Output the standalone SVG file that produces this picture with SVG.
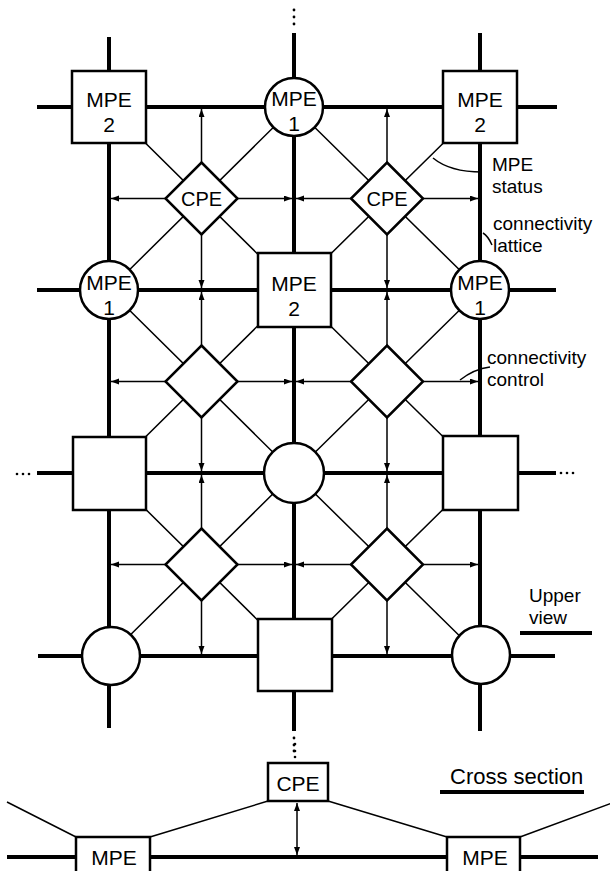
<svg xmlns="http://www.w3.org/2000/svg" width="610" height="871" viewBox="0 0 610 871">
<style>
.lat{stroke:#000;stroke-width:4;fill:none;stroke-linecap:butt}
.thin{stroke:#000;stroke-width:1.5;fill:none}
.arr{stroke:#000;stroke-width:1.5;fill:none;marker-end:url(#ah)}
.node{fill:#fff;stroke:#000;stroke-width:2.5}
.lbl{font-family:"Liberation Sans",Arial,sans-serif;font-size:21px;fill:#000;text-anchor:middle}
.cpe{font-family:"Liberation Sans",Arial,sans-serif;font-size:20px;fill:#000;text-anchor:middle}
.note{font-family:"Liberation Sans",Arial,sans-serif;font-size:19px;fill:#000}
.dot{fill:#000}
</style>
<defs>
<marker id="ah" markerWidth="9" markerHeight="7" refX="8" refY="3" orient="auto" markerUnits="userSpaceOnUse">
<path d="M0,0 L8,3 L0,6 z" fill="#000"/>
</marker>
<marker id="ahs" markerWidth="9" markerHeight="7" refX="0" refY="3" orient="auto" markerUnits="userSpaceOnUse">
<path d="M8,0 L0,3 L8,6 z" fill="#000"/>
</marker>
</defs>

<g id="connectors">
<g id="lattice">
<line class="lat" x1="37" y1="107" x2="557" y2="107"/>
<line class="lat" x1="37" y1="290" x2="556" y2="290"/>
<line class="lat" x1="37" y1="473" x2="556" y2="473"/>
<line class="lat" x1="38" y1="656" x2="555" y2="656"/>
<line class="lat" x1="109" y1="37" x2="109" y2="728"/>
<line class="lat" x1="294" y1="33" x2="294" y2="731"/>
<line class="lat" x1="480" y1="33" x2="480" y2="731"/>
</g>
<g id="ellipses">
<circle class="dot" cx="294" cy="10" r="1.4"/>
<circle class="dot" cx="294" cy="17" r="1.4"/>
<circle class="dot" cx="294" cy="24" r="1.4"/>
<circle class="dot" cx="294" cy="738" r="1.4"/>
<circle class="dot" cx="294" cy="745" r="1.4"/>
<circle class="dot" cx="294" cy="751" r="1.4"/>
<circle class="dot" cx="17" cy="474" r="1.3"/>
<circle class="dot" cx="23" cy="474" r="1.3"/>
<circle class="dot" cx="29" cy="474" r="1.3"/>
<circle class="dot" cx="561" cy="473" r="1.3"/>
<circle class="dot" cx="567" cy="473" r="1.3"/>
<circle class="dot" cx="573" cy="473" r="1.3"/>
</g>
<g id="diagonals">
<path class="thin" d="M109,107 L294,290 M294,107 L109,290 M294,107 L480,290 M480,107 L294,290"/>
<path class="thin" d="M109,290 L294,473 M294,290 L109,473 M294,290 L480,473 M480,290 L294,473"/>
<path class="thin" d="M109,473 L294,656 M294,473 L109,656 M294,473 L480,656 M480,473 L294,656"/>
</g>
<g id="controls">
<line class="arr" x1="201.5" y1="162.5" x2="201.5" y2="109"/>
<line class="arr" x1="201.5" y1="234.5" x2="201.5" y2="288"/>
<line class="arr" x1="165.5" y1="198.5" x2="111" y2="198.5"/>
<line class="arr" x1="237.5" y1="198.5" x2="292" y2="198.5"/>
<line class="arr" x1="387" y1="162.5" x2="387" y2="109"/>
<line class="arr" x1="387" y1="234.5" x2="387" y2="288"/>
<line class="arr" x1="351" y1="198.5" x2="296" y2="198.5"/>
<line class="arr" x1="423" y1="198.5" x2="478" y2="198.5"/>

<line class="arr" x1="201.5" y1="345.5" x2="201.5" y2="292"/>
<line class="arr" x1="201.5" y1="417.5" x2="201.5" y2="471"/>
<line class="arr" x1="165.5" y1="381.5" x2="111" y2="381.5"/>
<line class="arr" x1="237.5" y1="381.5" x2="292" y2="381.5"/>
<line class="arr" x1="387" y1="345.5" x2="387" y2="292"/>
<line class="arr" x1="387" y1="417.5" x2="387" y2="471"/>
<line class="arr" x1="351" y1="381.5" x2="296" y2="381.5"/>
<line class="arr" x1="423" y1="381.5" x2="478" y2="381.5"/>

<line class="arr" x1="201.5" y1="528.5" x2="201.5" y2="475"/>
<line class="arr" x1="201.5" y1="600.5" x2="201.5" y2="654"/>
<line class="arr" x1="165.5" y1="564.5" x2="111" y2="564.5"/>
<line class="arr" x1="237.5" y1="564.5" x2="292" y2="564.5"/>
<line class="arr" x1="387" y1="528.5" x2="387" y2="475"/>
<line class="arr" x1="387" y1="600.5" x2="387" y2="654"/>
<line class="arr" x1="351" y1="564.5" x2="296" y2="564.5"/>
<line class="arr" x1="423" y1="564.5" x2="478" y2="564.5"/>
</g>
<g id="leaders">
<path class="thin" d="M433,158 Q450,172 482,172"/>
<path class="thin" d="M483,233 Q488,236 492,245"/>
<path class="thin" d="M460,380 Q474,369 490,367"/>
</g>
<g id="xsec-lines">
<line class="lat" x1="7" y1="857" x2="76" y2="857"/>
<line class="lat" x1="150" y1="857" x2="447" y2="857"/>
<line class="lat" x1="520" y1="857" x2="598" y2="857"/>
<path class="thin" d="M7,802 L76,837 M150,837 L268,801 M328,801 L447,837 M520,837 L612,803"/>
<line class="thin" x1="297" y1="803" x2="297" y2="855" marker-start="url(#ahs)" marker-end="url(#ah)"/>
<circle class="dot" cx="295" cy="744" r="1.3"/>
<circle class="dot" cx="295" cy="751" r="1.3"/>
<circle class="dot" cx="295" cy="757" r="1.3"/>
</g>
</g>

<g id="mpe-r1c1"><rect class="node" x="72" y="71" width="74" height="72"/><text class="lbl" x="109" y="107">MPE<tspan x="109" dy="25">2</tspan></text></g>
<g id="mpe-r1c2"><circle class="node" cx="294" cy="107" r="29"/><text class="lbl" x="294" y="106">MPE<tspan x="294" dy="25">1</tspan></text></g>
<g id="mpe-r1c3"><rect class="node" x="443" y="71" width="74" height="72"/><text class="lbl" x="480" y="107">MPE<tspan x="480" dy="25">2</tspan></text></g>
<g id="mpe-r2c1"><circle class="node" cx="109" cy="290" r="29"/><text class="lbl" x="109" y="290">MPE<tspan x="109" dy="25">1</tspan></text></g>
<g id="mpe-r2c2"><rect class="node" x="258" y="253" width="73" height="74"/><text class="lbl" x="294" y="291">MPE<tspan x="294" dy="25">2</tspan></text></g>
<g id="mpe-r2c3"><circle class="node" cx="480" cy="290" r="29"/><text class="lbl" x="480" y="290">MPE<tspan x="480" dy="25">1</tspan></text></g>
<g id="mpe-r3c1"><rect class="node" x="73" y="437" width="73" height="73"/></g>
<g id="mpe-r3c2"><circle class="node" cx="294" cy="473" r="30"/></g>
<g id="mpe-r3c3"><rect class="node" x="443" y="436" width="75" height="74"/></g>
<g id="mpe-r4c1"><circle class="node" cx="111" cy="656" r="29"/></g>
<g id="mpe-r4c2"><rect class="node" x="258" y="619" width="74" height="72"/></g>
<g id="mpe-r4c3"><circle class="node" cx="481" cy="655" r="29"/></g>

<g id="cpe-r1c1"><path class="node" d="M201.5,162.5 L237.5,198.5 L201.5,234.5 L165.5,198.5 Z"/><text class="cpe" x="201.5" y="206">CPE</text></g>
<g id="cpe-r1c2"><path class="node" d="M387,162.5 L423,198.5 L387,234.5 L351,198.5 Z"/><text class="cpe" x="387" y="206">CPE</text></g>
<g id="cpe-r2c1"><path class="node" d="M201.5,345.5 L237.5,381.5 L201.5,417.5 L165.5,381.5 Z"/></g>
<g id="cpe-r2c2"><path class="node" d="M387,345.5 L423,381.5 L387,417.5 L351,381.5 Z"/></g>
<g id="cpe-r3c1"><path class="node" d="M201.5,528.5 L237.5,564.5 L201.5,600.5 L165.5,564.5 Z"/></g>
<g id="cpe-r3c2"><path class="node" d="M387,528.5 L423,564.5 L387,600.5 L351,564.5 Z"/></g>

<g id="annotations">
<text class="note" x="492" y="171">MPE<tspan x="492" dy="22">status</tspan></text>
<text class="note" x="493" y="230">connectivity<tspan x="493" dy="22">lattice</tspan></text>
<text class="note" x="487" y="364">connectivity<tspan x="487" dy="22">control</tspan></text>
<text class="note" x="529" y="602">Upper<tspan x="529" dy="22">view</tspan></text>
<line class="lat" x1="520" y1="633" x2="592" y2="633"/>
<text class="note" x="450" y="784" style="font-size:22px">Cross section</text>
<line class="lat" x1="440" y1="792" x2="584" y2="792"/>
</g>

<g id="xsec-cpe"><rect class="node" x="268" y="763" width="60" height="38"/><text class="lbl" x="298" y="791">CPE</text></g>
<g id="xsec-mpe-left"><rect class="node" x="76" y="837" width="74" height="40"/><text class="lbl" x="114" y="865">MPE</text></g>
<g id="xsec-mpe-right"><rect class="node" x="447" y="837" width="73" height="40"/><text class="lbl" x="485" y="865">MPE</text></g>
</svg>
